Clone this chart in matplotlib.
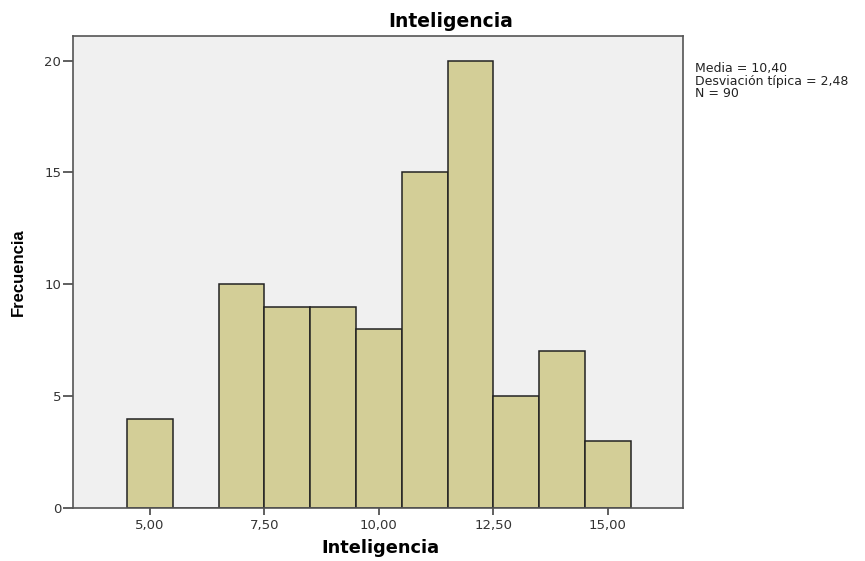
import matplotlib
matplotlib.use("Agg")
import matplotlib.pyplot as plt

# histogram data (bin centres and counts)
centres = [5, 6, 7, 8, 9, 10, 11, 12, 13, 14, 15]
counts = [4, 0, 10, 9, 9, 8, 15, 20, 5, 7, 3]
xticks = [5.0, 7.5, 10.0, 12.5, 15.0]
xticklabels = ["5,00", "7,50", "10,00", "12,50", "15,00"]
yticks = [0, 5, 10, 15, 20]
stats = ["Media = 10,40", "Desviación típica = 2,48", "N = 90"]

plt.rcParams['font.family'] = ['DejaVu Sans']

fig = plt.figure(figsize=(8.65, 5.61), dpi=100)
ax = fig.add_axes([0.0844, 0.0945, 0.7052, 0.8413])
ax.set_facecolor("#f0f0f0")

ax.bar(centres, counts, width=1.0, color="#d3ce97", edgecolor="#222222", linewidth=1.1)

ax.set_xlim(3.32, 16.64)
ax.set_ylim(0, 21.1)
ax.set_xticks(xticks)
ax.set_xticklabels(xticklabels)
ax.set_yticks(yticks)
ax.tick_params(colors="#444444", labelcolor="#333333", width=1.2, labelsize=9.5)
ax.tick_params(axis="x", direction="out", length=5, pad=3)
ax.tick_params(axis="y", direction="out", length=7.5, pad=1)

for s in ax.spines.values():
	s.set_color("#555555")
	s.set_linewidth(1.2)

fig.text(451/865, 1 - 27/561, "Inteligencia", fontsize=13.5, fontweight="bold",
	ha="center", va="baseline")
fig.text(380/865, 1 - 553/561, "Inteligencia", fontsize=12.8, fontweight="bold",
	ha="center", va="baseline")
fig.text(18.5/865, 1 - 272/561, "Frecuencia", fontsize=12, fontweight="bold",
	family="Liberation Sans", rotation=90, ha="center", va="center")

fig.text(695/865, 1 - 62/561, "\n".join(stats), fontsize=9, va="top", ha="left",
	linespacing=0.95, color="#222222")

fig.savefig("out.png", dpi=100)
